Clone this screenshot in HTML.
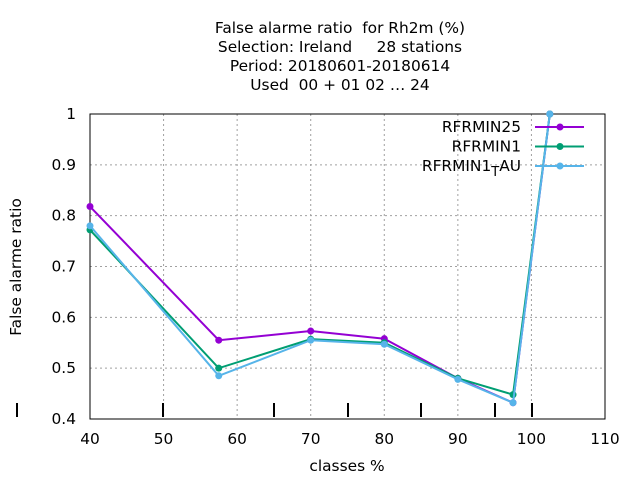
<!DOCTYPE html>
<html><head><meta charset="utf-8"><style>
body{margin:0;background:#fff;}
svg text{font-family:"DejaVu Sans","Liberation Sans",sans-serif;font-size:15.4px;fill:#000;white-space:pre;}
</style></head><body>
<svg id="chart" width="640" height="480" xml:space="preserve">
<g text-anchor="middle">
<text x="340" y="33">False alarme ratio  for Rh2m (%)</text>
<text x="340" y="52">Selection: Ireland     28 stations</text>
<text x="340" y="71">Period: 20180601-20180614</text>
<text x="340" y="90">Used  00 + 01 02 … 24</text>
</g>
<g id="grid"></g>
<g id="axes"></g>
<text x="21" y="267" transform="rotate(-90 21 267)" text-anchor="middle">False alarme ratio</text>
<text x="347" y="471" text-anchor="middle">classes %</text>
<g id="series"></g>
<g id="legend"></g>
</svg>
<script>
const xCats=[40,57.5,70,80,90,97.5,102.5];
const rfrmin25=[0.818,0.555,0.573,0.558,0.48,0.432,1.0];
const rfrmin1=[0.772,0.5,0.557,0.55,0.48,0.448,1.0];
const rfrmin1tau=[0.78,0.485,0.555,0.547,0.478,0.432,1.0];
const xTicks=[40,50,60,70,80,90,100,110];
const yTicks=[0.4,0.5,0.6,0.7,0.8,0.9,1];
const seriesNames=["RFRMIN25","RFRMIN1","RFRMIN1_TAU"];
const L=90,R=605,T=114,B=419;
const X=v=>L+(v-40)/70*(R-L);
const Y=v=>B-(v-0.4)/0.6*(B-T);
const NS="http://www.w3.org/2000/svg";
function mk(p,tag,at){const e=document.createElementNS(NS,tag);for(const k in at)e.setAttribute(k,at[k]);p.appendChild(e);return e;}
const grid=document.getElementById('grid'),axes=document.getElementById('axes');
xTicks.forEach(t=>{
 if(t>40&&t<110){const l=mk(grid,'line',{x1:X(t),x2:X(t),y1:T,y2:B,stroke:'#a0a0a0','stroke-dasharray':'2,3'});
 
 }
 const tx=mk(axes,'text',{x:X(t),y:444,'text-anchor':'middle'});tx.textContent=t;
 
 
});
yTicks.forEach(t=>{
 if(t>0.4&&t<1){const l=mk(grid,'line',{x1:L,x2:R,y1:Y(t),y2:Y(t),stroke:'#a0a0a0','stroke-dasharray':'2,3'});
 
 }
 const tx=mk(axes,'text',{x:76,y:Y(t)+5,'text-anchor':'end'});tx.textContent=t;
 
 
});
const fr=mk(axes,'rect',{x:L,y:T,width:R-L,height:B-T,fill:'none',stroke:'#000'});


[17,163,274,348,421,495,532].forEach(x=>{const l=mk(axes,'line',{x1:x,x2:x,y1:403,y2:417,stroke:'#000','stroke-width':2});
 
 });
const colors=['#9400d3','#009e73','#56b4e9'];
const data=[rfrmin25,rfrmin1,rfrmin1tau];
const sg=document.getElementById('series'),lg=document.getElementById('legend');
data.forEach((s,i)=>{
 const g=mk(sg,'g',{});
 
 
 mk(g,'polyline',{points:s.map((v,j)=>X(xCats[j])+','+Y(v)).join(' '),fill:'none',stroke:colors[i],'stroke-width':2});
 s.forEach((v,j)=>{const c=mk(g,'circle',{cx:X(xCats[j]),cy:Y(v),r:3.5,fill:colors[i]});
  
  });
 const y=127+i*19.5;
 const e=mk(lg,'g',{});
 
 
 mk(e,'line',{x1:535,x2:584,y1:y,y2:y,stroke:colors[i],'stroke-width':2});
 mk(e,'circle',{cx:560,cy:y,r:3.5,fill:colors[i]});
 const tx=mk(e,'text',{x:521,y:y+5,'text-anchor':'end'});
 if(i<2)tx.textContent=seriesNames[i];
 else{tx.innerHTML='RFRMIN1<tspan dy="5" font-size="13">T</tspan><tspan dy="-5">AU</tspan>';}
});
</script>
</body></html>
